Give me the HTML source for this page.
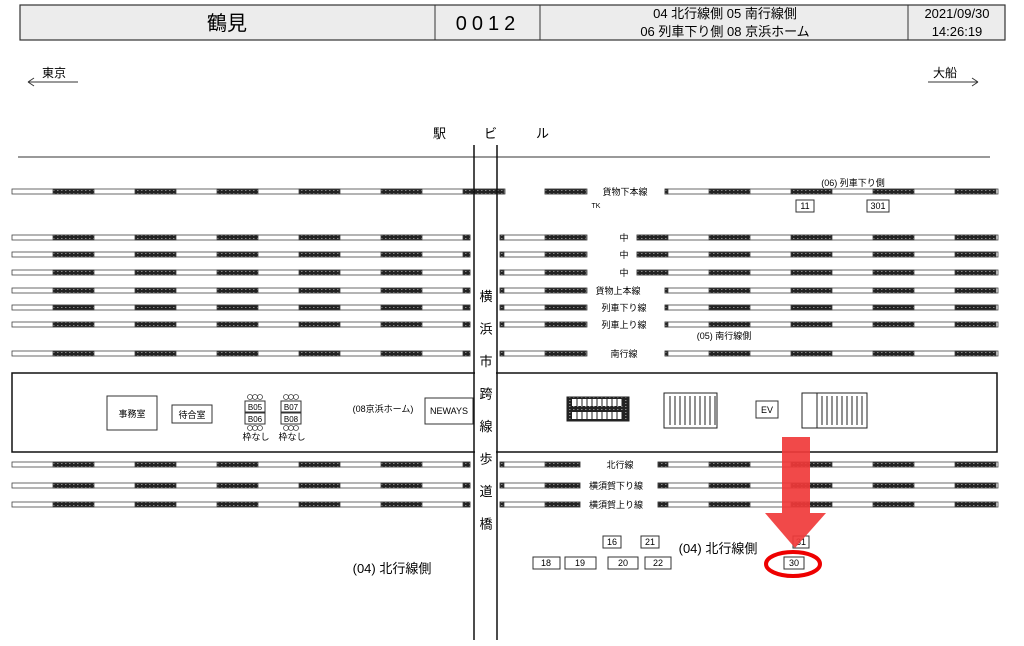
<!DOCTYPE html>
<html><head><meta charset="utf-8">
<style>
body{margin:0;background:#fff;width:1024px;height:646px;overflow:hidden}
svg{display:block}
text{font-family:"Liberation Sans","Noto Sans CJK JP",sans-serif;fill:#000}
</style></head><body>
<svg id="s" width="1024" height="646" viewBox="0 0 1024 646" xmlns="http://www.w3.org/2000/svg">
<defs>
<pattern id="dk" width="4" height="3" patternUnits="userSpaceOnUse">
<rect width="4" height="3" fill="#222"/><rect x="1" y="1" width="1.5" height="1" fill="#888"/>
</pattern>
</defs>
<rect x="20" y="5" width="985" height="35" fill="#ececec" stroke="#333" stroke-width="1.2"/>
<line x1="435" y1="5" x2="435" y2="40" stroke="#333"/>
<line x1="540" y1="5" x2="540" y2="40" stroke="#333"/>
<line x1="908" y1="5" x2="908" y2="40" stroke="#333"/>
<text x="227" y="30" font-size="20" text-anchor="middle">鶴見</text>
<text x="488" y="30" font-size="20" text-anchor="middle" letter-spacing="5">0012</text>
<text x="725" y="18" font-size="13" text-anchor="middle">04 北行線側 05 南行線側</text>
<text x="725" y="36" font-size="13" text-anchor="middle">06 列車下り側 08 京浜ホーム</text>
<text x="957" y="18" font-size="13" text-anchor="middle">2021/09/30</text>
<text x="957" y="36" font-size="13" text-anchor="middle">14:26:19</text>
<text x="42" y="77" font-size="12">東京</text>
<path d="M28 82 L78 82 M28 82 L34 78 M28 82 L34 86" stroke="#333" fill="none"/>
<text x="933" y="77" font-size="12">大船</text>
<path d="M928 82 L978 82 M978 82 L972 78 M978 82 L972 86" stroke="#333" fill="none"/>
<text x="433" y="138" font-size="13">駅</text>
<text x="484" y="138" font-size="13">ビ</text>
<text x="536" y="138" font-size="13">ル</text>
<line x1="18" y1="157" x2="990" y2="157" stroke="#333"/>
<g id="tracks"></g>
<rect x="12" y="373" width="985" height="79" fill="none" stroke="#111" stroke-width="1.5"/>
<g font-size="9" text-anchor="middle">
<rect x="107" y="396" width="50" height="34" fill="#fff" stroke="#333"/><text x="132" y="417">事務室</text>
<rect x="172" y="405" width="40" height="18" fill="#fff" stroke="#333"/><text x="192" y="418">待合室</text>
<rect x="245" y="401" width="20" height="11" fill="#fff" stroke="#333"/><text x="255" y="410" font-size="8">B05</text>
<rect x="245" y="413" width="20" height="11" fill="#fff" stroke="#333"/><text x="255" y="422" font-size="8">B06</text>
<rect x="281" y="401" width="20" height="11" fill="#fff" stroke="#333"/><text x="291" y="410" font-size="8">B07</text>
<rect x="281" y="413" width="20" height="11" fill="#fff" stroke="#333"/><text x="291" y="422" font-size="8">B08</text>
<text x="256" y="440">枠なし</text><text x="292" y="440">枠なし</text>
<text x="383" y="412">(08京浜ホーム)</text>
<rect x="425" y="398" width="48" height="26" fill="#fff" stroke="#333"/><text x="449" y="414">NEWAYS</text>
<rect x="756" y="401" width="22" height="17" fill="#fff" stroke="#333"/><text x="767" y="413">EV</text>
</g>
<g id="circles" fill="none" stroke="#444" stroke-width=".8"></g>
<g stroke="#222" fill="none">
<rect x="567" y="397" width="62" height="24" fill="url(#dk)"/>
<rect x="572" y="399" width="50" height="7" fill="#fff" stroke="none"/>
<rect x="572" y="412" width="50" height="7" fill="#fff" stroke="none"/>
<rect x="664" y="393" width="53" height="35" fill="#fff"/>
<rect x="802" y="393" width="15" height="35" fill="#fff"/>
<rect x="817" y="393" width="50" height="35" fill="#fff"/>
</g>
<g id="stairs" stroke="#222"></g>
<line x1="474" y1="145" x2="474" y2="640" stroke="#111" stroke-width="1.5"/>
<line x1="497" y1="145" x2="497" y2="640" stroke="#111" stroke-width="1.5"/>
<rect x="475" y="370" width="21" height="85" fill="#fff"/>
<g font-size="13" text-anchor="middle" id="vch"></g>
<g font-size="9" text-anchor="middle">
<text x="625" y="195">貨物下本線</text><text x="596" y="208" font-size="7">TK</text>
<text x="853" y="186">(06) 列車下り側</text>
<text x="624" y="241">中</text><text x="624" y="258">中</text><text x="624" y="276">中</text>
<text x="618" y="294">貨物上本線</text><text x="624" y="311">列車下り線</text><text x="624" y="328">列車上り線</text>
<text x="724" y="339">(05) 南行線側</text>
<text x="624" y="357">南行線</text>
<text x="620" y="468">北行線</text><text x="616" y="489">横須賀下り線</text><text x="616" y="508">横須賀上り線</text>
</g>
<g font-size="9" text-anchor="middle" fill="#fff" stroke="#333">
<rect x="796" y="200" width="18" height="12"/><rect x="867" y="200" width="22" height="12"/>
<rect x="603" y="536" width="18" height="12"/><rect x="641" y="536" width="18" height="12"/>
<rect x="533" y="557" width="27" height="12"/><rect x="565" y="557" width="31" height="12"/>
<rect x="608" y="557" width="30" height="12"/><rect x="645" y="557" width="26" height="12"/>
<rect x="793" y="536" width="16" height="12"/><rect x="784" y="557" width="20" height="12"/>
</g>
<g font-size="9" text-anchor="middle">
<text x="805" y="209">11</text><text x="878" y="209">301</text>
<text x="612" y="545">16</text><text x="650" y="545">21</text>
<text x="546" y="566">18</text><text x="580" y="566">19</text><text x="623" y="566">20</text><text x="658" y="566">22</text>
<text x="801" y="545">31</text><text x="794" y="566">30</text>
</g>
<text x="718" y="553" font-size="13" text-anchor="middle">(04) 北行線側</text>
<text x="392" y="573" font-size="13" text-anchor="middle">(04) 北行線側</text>
<g fill="#f03a3a" opacity=".92">
<rect x="782" y="437" width="28" height="76"/>
<polygon points="765,513 826,513 795,548"/>
</g>
<ellipse cx="793" cy="564" rx="27" ry="12" fill="none" stroke="#e00" stroke-width="4"/>
</svg>
<script>
var NS="http://www.w3.org/2000/svg",g=document.getElementById('tracks');
function r(x,y,w,h,f,par){var e=document.createElementNS(NS,'rect');e.setAttribute('x',x);e.setAttribute('y',y);e.setAttribute('width',w);e.setAttribute('height',h);e.setAttribute('fill',f);e.setAttribute('stroke','#444');e.setAttribute('stroke-width','.8');(par||g).appendChild(e);}
function seg(a,b,y){if(b<=a)return;r(a,y,b-a,5,'#fff');for(var k=-2;k<14;k++){var d=53+82*k,e=d+41;var s=Math.max(d,a),t=Math.min(e,b);if(t>s)r(s,y,t-s,5,'url(#dk)');}}
var rows=[[189,505,545,587,665],[235,470,500,587,637],[252,470,500,587,637],[270,470,500,587,637],[288,470,500,587,665],[305,470,500,587,665],[322,470,500,587,665],[351,470,500,587,665],[462,470,500,580,658],[483,470,500,580,658],[502,470,500,580,658]];
rows.forEach(function(q){seg(12,q[1],q[0]);seg(q[2],q[3],q[0]);seg(q[4],998,q[0]);});
var v=document.getElementById('vch');"横浜市跨線歩道橋".split('').forEach(function(c,i){var t=document.createElementNS(NS,'text');t.setAttribute('x',486);t.setAttribute('y',301+i*32.5);t.textContent=c;v.appendChild(t);});
var ci=document.getElementById('circles');[[250,255,260],[286,291,296]].forEach(function(xs){xs.forEach(function(x){[397,428].forEach(function(y){var e=document.createElementNS(NS,'circle');e.setAttribute('cx',x);e.setAttribute('cy',y);e.setAttribute('r',2.5);ci.appendChild(e);});});});
var st=document.getElementById('stairs');function ln(x1,y1,x2,y2){var e=document.createElementNS(NS,'line');e.setAttribute('x1',x1);e.setAttribute('y1',y1);e.setAttribute('x2',x2);e.setAttribute('y2',y2);st.appendChild(e);}
for(var x=670;x<716;x+=5)ln(x,396,x,425);for(x=822;x<866;x+=5)ln(x,396,x,425);for(x=577;x<625;x+=5){ln(x,399,x,406);ln(x,412,x,419);}
</script>
</body></html>
